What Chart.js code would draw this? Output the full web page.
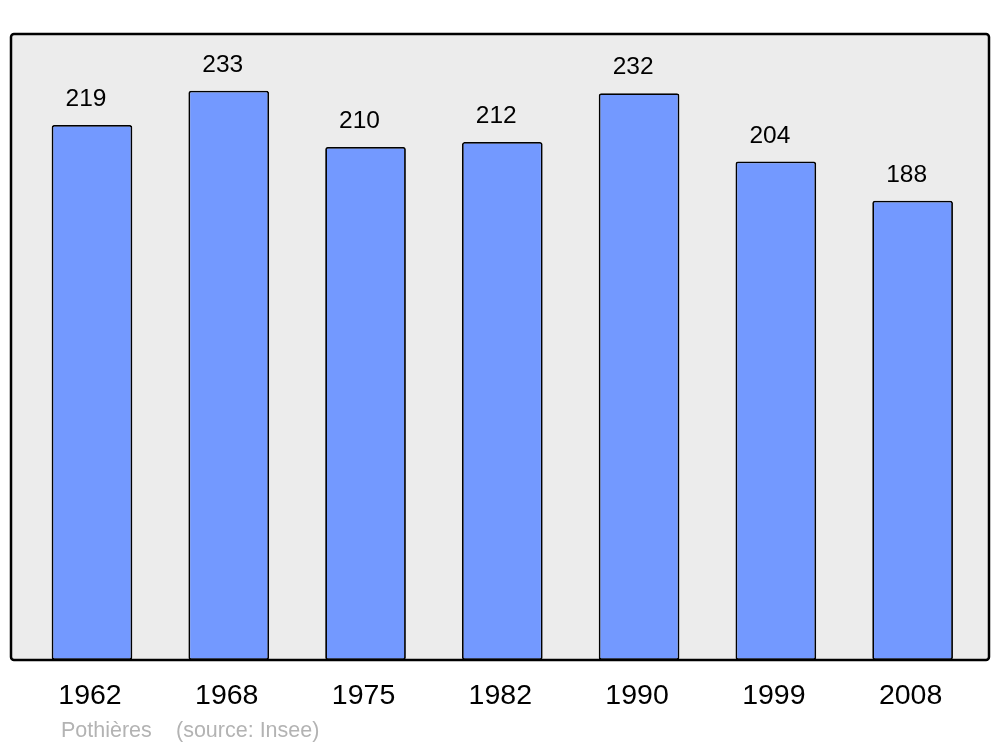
<!DOCTYPE html>
<html>
<head>
<meta charset="utf-8">
<script src="https://cdn.jsdelivr.net/npm/chart.js@4"></script>
<style>
  body { margin: 0; background: #fff; }
</style>
</head>
<body>
<canvas id="myChart" width="1000" height="747"></canvas>
<script>
const years = ['1962', '1968', '1975', '1982', '1990', '1999', '2008'];
const population = [219, 233, 210, 212, 232, 204, 188];
const commune = 'Pothières';
const source = '(source: Insee)';

// frame behind the bars and all the texts
const decorations = {
    id: 'decorations',
    beforeDraw(chart) {
        const ctx = chart.ctx;
        ctx.save();
        ctx.beginPath();
        ctx.roundRect(11, 34, 978, 626, 3);
        ctx.fillStyle = '#ececec';
        ctx.fill();
        ctx.restore();
    },
    afterDraw(chart) {
        const ctx = chart.ctx;
        const x = chart.scales.x;
        const meta = chart.getDatasetMeta(0);
        ctx.save();
        ctx.beginPath();
        ctx.roundRect(11, 34, 978, 626, 3);
        ctx.lineWidth = 2.5;
        ctx.strokeStyle = '#000';
        ctx.stroke();

        ctx.fillStyle = '#000';
        ctx.textAlign = 'center';
        ctx.textBaseline = 'middle';
        ctx.font = '24.5px "Liberation Sans", Arial, sans-serif';
        meta.data.forEach(function (bar, i) {
            ctx.fillText(population[i], bar.x - 6, bar.y - 25.5);
        });
        ctx.font = '28.5px "Liberation Sans", Arial, sans-serif';
        years.forEach(function (y, i) {
            ctx.fillText(y, x.getPixelForValue(i) - 2, 696);
        });
        ctx.fillStyle = '#b3b3b3';
        ctx.textAlign = 'left';
        ctx.font = '21.5px "Liberation Sans", Arial, sans-serif';
        ctx.fillText(commune, 61, 731);
        ctx.fillText(source, 176, 731);
        ctx.restore();
    }
};

const ctx = document.getElementById('myChart').getContext('2d');
const myChart = new Chart(ctx, {
    type: 'bar',
    data: {
        labels: years,
        datasets: [{
            data: population,
            backgroundColor: '#7399ff',
            borderColor: '#000',
            borderWidth: 1.8,
            borderRadius: 2.5,
            borderSkipped: false,
            barPercentage: 0.59,
            categoryPercentage: 1
        }]
    },
    options: {
        responsive: false,
        animation: false,
        layout: { padding: { left: 23.6, right: 19, top: 34, bottom: 87 } },
        plugins: { legend: { display: false }, tooltip: { enabled: false } },
        scales: {
            x: { display: false },
            y: { display: false, min: 0, max: 256.2 }
        }
    },
    plugins: [decorations]
});
</script>
</body>
</html>
